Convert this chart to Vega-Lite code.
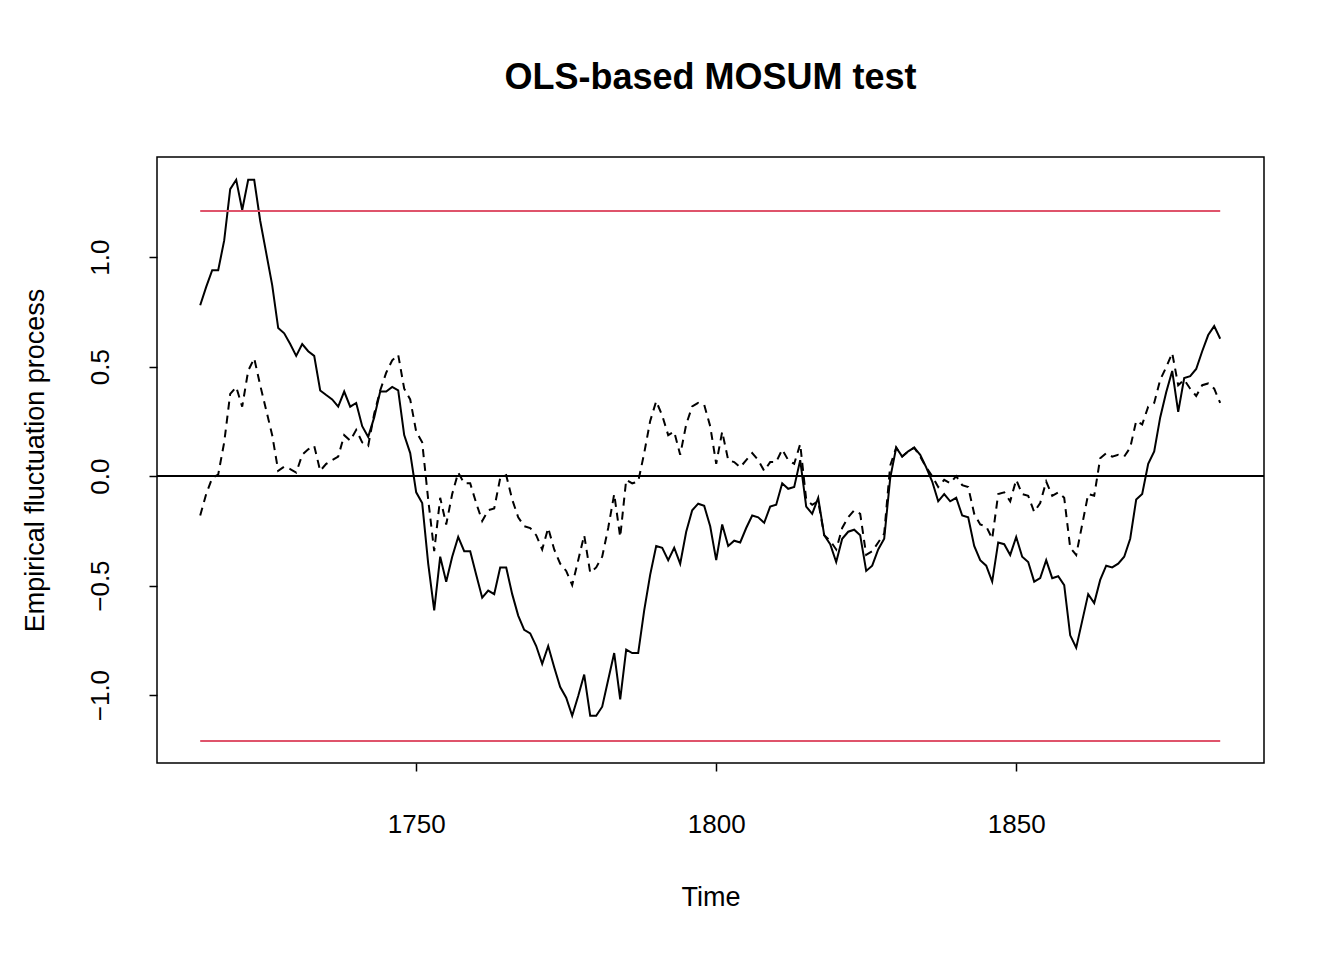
{
  "$schema": "https://vega.github.io/schema/vega-lite/v6.json",
  "autosize": "none",
  "width": 1107,
  "height": 606,
  "padding": {"left": 157, "top": 157, "right": 80, "bottom": 197},
  "title": {"text": "OLS-based MOSUM test", "font": "Liberation Sans", "fontSize": 36, "fontWeight": "bold", "offset": 60, "color": "black"},
  "datasets": {
    "proc": [
      {"t":1714,"a":0.78,"b":-0.18},{"t":1715,"a":0.864,"b":-0.082},{"t":1716,"a":0.94,"b":-0.009},{"t":1717,"a":0.94,"b":0.007},
      {"t":1718,"a":1.076,"b":0.154},{"t":1719,"a":1.31,"b":0.375},{"t":1720,"a":1.353,"b":0.407},{"t":1721,"a":1.215,"b":0.317},
      {"t":1722,"a":1.353,"b":0.481},{"t":1723,"a":1.353,"b":0.538},{"t":1724,"a":1.166,"b":0.415},{"t":1725,"a":1.019,"b":0.301},
      {"t":1726,"a":0.872,"b":0.187},{"t":1727,"a":0.676,"b":0.024},{"t":1728,"a":0.652,"b":0.043},{"t":1729,"a":0.603,"b":0.032},
      {"t":1730,"a":0.549,"b":0.016},{"t":1731,"a":0.603,"b":0.097},{"t":1732,"a":0.57,"b":0.122},{"t":1733,"a":0.549,"b":0.138},
      {"t":1734,"a":0.391,"b":0.024},{"t":1735,"a":0.37,"b":0.056},{"t":1736,"a":0.35,"b":0.073},{"t":1737,"a":0.317,"b":0.089},
      {"t":1738,"a":0.386,"b":0.187},{"t":1739,"a":0.317,"b":0.162},{"t":1740,"a":0.334,"b":0.211},{"t":1741,"a":0.228,"b":0.154},
      {"t":1742,"a":0.179,"b":0.138},{"t":1743,"a":0.268,"b":0.285},{"t":1744,"a":0.386,"b":0.391},{"t":1745,"a":0.386,"b":0.472},
      {"t":1746,"a":0.407,"b":0.529},{"t":1747,"a":0.391,"b":0.554},{"t":1748,"a":0.187,"b":0.399},{"t":1749,"a":0.105,"b":0.35},
      {"t":1750,"a":-0.074,"b":0.203},{"t":1751,"a":-0.123,"b":0.154},{"t":1752,"a":-0.4,"b":-0.107},{"t":1753,"a":-0.613,"b":-0.343},
      {"t":1754,"a":-0.368,"b":-0.099},{"t":1755,"a":-0.482,"b":-0.221},{"t":1756,"a":-0.368,"b":-0.082},{"t":1757,"a":-0.278,"b":0.016},
      {"t":1758,"a":-0.343,"b":-0.033},{"t":1759,"a":-0.343,"b":-0.033},{"t":1760,"a":-0.45,"b":-0.123},{"t":1761,"a":-0.555,"b":-0.205},
      {"t":1762,"a":-0.523,"b":-0.156},{"t":1763,"a":-0.539,"b":-0.148},{"t":1764,"a":-0.417,"b":-0.009},{"t":1765,"a":-0.417,"b":0.004},
      {"t":1766,"a":-0.539,"b":-0.107},{"t":1767,"a":-0.637,"b":-0.188},{"t":1768,"a":-0.702,"b":-0.229},{"t":1769,"a":-0.718,"b":-0.237},
      {"t":1770,"a":-0.776,"b":-0.27},{"t":1771,"a":-0.857,"b":-0.335},{"t":1772,"a":-0.776,"b":-0.237},{"t":1773,"a":-0.873,"b":-0.335},
      {"t":1774,"a":-0.963,"b":-0.4},{"t":1775,"a":-1.012,"b":-0.433},{"t":1776,"a":-1.094,"b":-0.498},{"t":1777,"a":-1.004,"b":-0.384},
      {"t":1778,"a":-0.906,"b":-0.27},{"t":1779,"a":-1.094,"b":-0.441},{"t":1780,"a":-1.094,"b":-0.417},{"t":1781,"a":-1.053,"b":-0.368},
      {"t":1782,"a":-0.93,"b":-0.237},{"t":1783,"a":-0.808,"b":-0.082},{"t":1784,"a":-1.02,"b":-0.278},{"t":1785,"a":-0.792,"b":-0.017},
      {"t":1786,"a":-0.808,"b":-0.033},{"t":1787,"a":-0.808,"b":-0.025},{"t":1788,"a":-0.613,"b":0.105},{"t":1789,"a":-0.45,"b":0.252},
      {"t":1790,"a":-0.319,"b":0.342},{"t":1791,"a":-0.327,"b":0.277},{"t":1792,"a":-0.384,"b":0.187},{"t":1793,"a":-0.327,"b":0.203},
      {"t":1794,"a":-0.4,"b":0.097},{"t":1795,"a":-0.254,"b":0.236},{"t":1796,"a":-0.156,"b":0.318},{"t":1797,"a":-0.126,"b":0.334},
      {"t":1798,"a":-0.136,"b":0.326},{"t":1799,"a":-0.229,"b":0.228},{"t":1800,"a":-0.384,"b":0.056},{"t":1801,"a":-0.221,"b":0.203},
      {"t":1802,"a":-0.319,"b":0.073},{"t":1803,"a":-0.295,"b":0.064},{"t":1804,"a":-0.303,"b":0.04},{"t":1805,"a":-0.237,"b":0.073},
      {"t":1806,"a":-0.18,"b":0.105},{"t":1807,"a":-0.188,"b":0.073},{"t":1808,"a":-0.213,"b":0.024},{"t":1809,"a":-0.139,"b":0.064},
      {"t":1810,"a":-0.131,"b":0.064},{"t":1811,"a":-0.033,"b":0.122},{"t":1812,"a":-0.058,"b":0.073},{"t":1813,"a":-0.05,"b":0.056},
      {"t":1814,"a":0.073,"b":0.146},{"t":1815,"a":-0.139,"b":-0.107},{"t":1816,"a":-0.172,"b":-0.131},{"t":1817,"a":-0.099,"b":-0.115},
      {"t":1818,"a":-0.27,"b":-0.27},{"t":1819,"a":-0.311,"b":-0.295},{"t":1820,"a":-0.392,"b":-0.335},{"t":1821,"a":-0.286,"b":-0.237},
      {"t":1822,"a":-0.254,"b":-0.188},{"t":1823,"a":-0.245,"b":-0.156},{"t":1824,"a":-0.27,"b":-0.172},{"t":1825,"a":-0.433,"b":-0.36},
      {"t":1826,"a":-0.409,"b":-0.343},{"t":1827,"a":-0.335,"b":-0.303},{"t":1828,"a":-0.286,"b":-0.262},{"t":1829,"a":-0.009,"b":0.048},
      {"t":1830,"a":0.13,"b":0.13},{"t":1831,"a":0.089,"b":0.089},{"t":1832,"a":0.113,"b":0.113},{"t":1833,"a":0.13,"b":0.13},
      {"t":1834,"a":0.097,"b":0.089},{"t":1835,"a":0.04,"b":0.04},{"t":1836,"a":-0.025,"b":0.0},{"t":1837,"a":-0.115,"b":-0.05},
      {"t":1838,"a":-0.082,"b":-0.017},{"t":1839,"a":-0.115,"b":-0.033},{"t":1840,"a":-0.099,"b":0.0},{"t":1841,"a":-0.18,"b":-0.041},
      {"t":1842,"a":-0.188,"b":-0.05},{"t":1843,"a":-0.319,"b":-0.172},{"t":1844,"a":-0.384,"b":-0.221},{"t":1845,"a":-0.409,"b":-0.229},
      {"t":1846,"a":-0.482,"b":-0.286},{"t":1847,"a":-0.303,"b":-0.082},{"t":1848,"a":-0.311,"b":-0.074},{"t":1849,"a":-0.36,"b":-0.115},
      {"t":1850,"a":-0.278,"b":-0.017},{"t":1851,"a":-0.368,"b":-0.082},{"t":1852,"a":-0.392,"b":-0.09},{"t":1853,"a":-0.482,"b":-0.164},
      {"t":1854,"a":-0.466,"b":-0.123},{"t":1855,"a":-0.384,"b":-0.025},{"t":1856,"a":-0.466,"b":-0.09},{"t":1857,"a":-0.457,"b":-0.074},
      {"t":1858,"a":-0.498,"b":-0.099},{"t":1859,"a":-0.727,"b":-0.327},{"t":1860,"a":-0.784,"b":-0.36},{"t":1861,"a":-0.661,"b":-0.221},
      {"t":1862,"a":-0.539,"b":-0.082},{"t":1863,"a":-0.58,"b":-0.09},{"t":1864,"a":-0.474,"b":0.081},{"t":1865,"a":-0.409,"b":0.105},
      {"t":1866,"a":-0.417,"b":0.089},{"t":1867,"a":-0.4,"b":0.097},{"t":1868,"a":-0.368,"b":0.089},{"t":1869,"a":-0.286,"b":0.13},
      {"t":1870,"a":-0.107,"b":0.252},{"t":1871,"a":-0.082,"b":0.236},{"t":1872,"a":0.056,"b":0.317},{"t":1873,"a":0.113,"b":0.334},
      {"t":1874,"a":0.268,"b":0.44},{"t":1875,"a":0.383,"b":0.497},{"t":1876,"a":0.48,"b":0.562},{"t":1877,"a":0.293,"b":0.415},
      {"t":1878,"a":0.448,"b":0.44},{"t":1879,"a":0.456,"b":0.399},{"t":1880,"a":0.489,"b":0.366},{"t":1881,"a":0.57,"b":0.415},
      {"t":1882,"a":0.644,"b":0.423},{"t":1883,"a":0.685,"b":0.399},{"t":1884,"a":0.627,"b":0.334}
    ],
    "bounds": [
      {"t0": 1714, "t1": 1884, "v": 1.21},
      {"t0": 1714, "t1": 1884, "v": -1.21}
    ]
  },
  "data": {"name": "proc"},
  "config": {
    "view": {"stroke": "black", "strokeWidth": 1.5},
    "axis": {
      "labelFont": "Liberation Sans", "titleFont": "Liberation Sans",
      "labelFontSize": 26, "titleFontSize": 27, "titleFontWeight": "normal",
      "labelColor": "black", "titleColor": "black", "tickColor": "black",
      "tickSize": 8, "tickWidth": 1.5, "grid": false, "domain": false
    }
  },
  "layer": [
    {
      "mark": {"type": "line", "color": "black", "strokeWidth": 2},
      "encoding": {
        "x": {"field": "t", "type": "quantitative", "title": "Time",
              "scale": {"domain": [1706.8, 1891.3], "nice": false, "zero": false},
              "axis": {"values": [1750, 1800, 1850], "format": "d", "labelPadding": 40, "titlePadding": 47}},
        "y": {"field": "a", "type": "quantitative", "title": "Empirical fluctuation process",
              "scale": {"domain": [-1.31, 1.457], "nice": false, "zero": false},
              "axis": {"values": [-1, -0.5, 0, 0.5, 1], "format": ".1f", "labelAngle": -90,
                       "labelAlign": "center", "labelBaseline": "bottom", "labelPadding": 36, "titlePadding": 38}}
      }
    },
    {
      "mark": {"type": "line", "color": "black", "strokeWidth": 2, "strokeDash": [8, 6]},
      "encoding": {
        "x": {"field": "t", "type": "quantitative"},
        "y": {"field": "b", "type": "quantitative"}
      }
    },
    {
      "data": {"values": [{"v": 0}]},
      "mark": {"type": "rule", "color": "black", "strokeWidth": 2},
      "encoding": {"y": {"field": "v", "type": "quantitative"}}
    },
    {
      "data": {"name": "bounds"},
      "mark": {"type": "rule", "color": "#DF536B", "strokeWidth": 2},
      "encoding": {
        "x": {"field": "t0", "type": "quantitative"},
        "x2": {"field": "t1"},
        "y": {"field": "v", "type": "quantitative"}
      }
    }
  ]
}
